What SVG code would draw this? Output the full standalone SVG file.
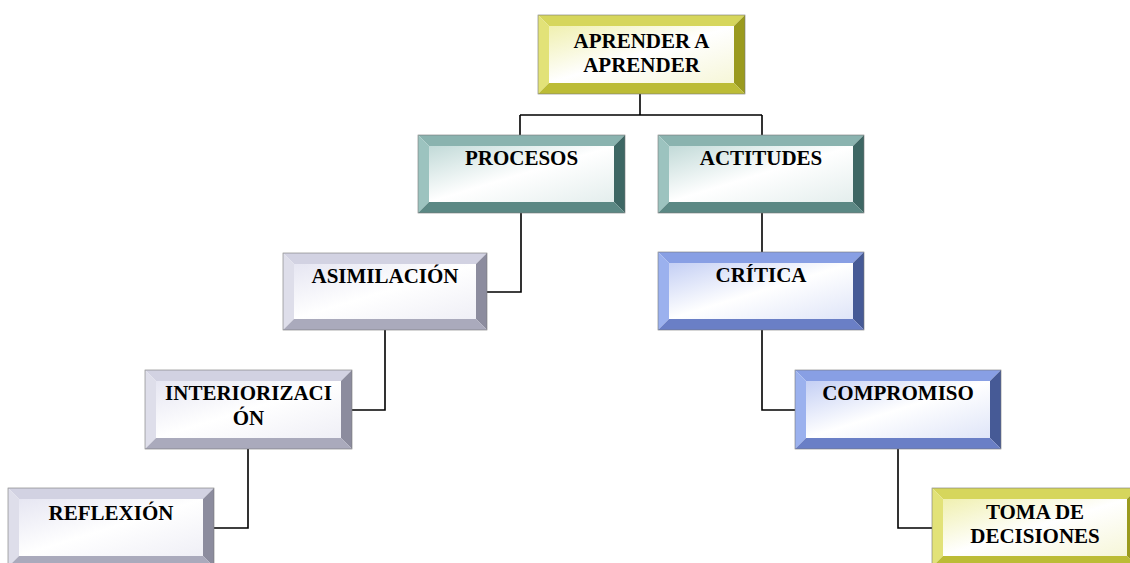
<svg xmlns="http://www.w3.org/2000/svg" width="1130" height="563" viewBox="0 0 1130 563">
<defs>
<linearGradient id="fy" x1="0" y1="0" x2="1" y2="1"><stop offset="0" stop-color="#f0f0b0"/><stop offset="0.5" stop-color="#ffffff"/><stop offset="1" stop-color="#f6f6d8"/></linearGradient>
<linearGradient id="ft" x1="0" y1="0" x2="1" y2="1"><stop offset="0" stop-color="#c2dad8"/><stop offset="0.5" stop-color="#ffffff"/><stop offset="1" stop-color="#e4eeed"/></linearGradient>
<linearGradient id="fg" x1="0" y1="0" x2="1" y2="1"><stop offset="0" stop-color="#e6e6f2"/><stop offset="0.5" stop-color="#ffffff"/><stop offset="1" stop-color="#efeff6"/></linearGradient>
<linearGradient id="fb" x1="0" y1="0" x2="1" y2="1"><stop offset="0" stop-color="#c4cff4"/><stop offset="0.5" stop-color="#ffffff"/><stop offset="1" stop-color="#dfe5f8"/></linearGradient>
</defs>
<style>
.y .tp{fill:#d6d65c}.y .lf{fill:#e2e278}.y .rt{fill:#9a9a1e}.y .bt{fill:#bcbc36}.y .fc{fill:url(#fy)}
.t .tp{fill:#8ab3af}.t .lf{fill:#9cc3bf}.t .rt{fill:#3e6764}.t .bt{fill:#5b8884}.t .fc{fill:url(#ft)}
.g .tp{fill:#d2d2e2}.g .lf{fill:#dedeea}.g .rt{fill:#8c8c9e}.g .bt{fill:#aaaabc}.g .fc{fill:url(#fg)}
.b .tp{fill:#889fe4}.b .lf{fill:#9bb1ee}.b .rt{fill:#465a96}.b .bt{fill:#6a7fc6}.b .fc{fill:url(#fb)}
.ol{fill:none;stroke:#777;stroke-width:0.6}
text{font-family:"Liberation Serif","Times New Roman",serif;font-weight:bold;font-size:21px;fill:#000;text-anchor:middle}
.cn{fill:none;stroke:#000;stroke-width:1.6}
</style>
<g id="connectors">
<path class="cn" d="M640 94V115M520 115H762M520 115V135M762 115V135"/>
<path class="cn" d="M521 213V292H487"/>
<path class="cn" d="M385 330V410H352"/>
<path class="cn" d="M248 449V528H214"/>
<path class="cn" d="M762 213V252"/>
<path class="cn" d="M762 330V410H795"/>
<path class="cn" d="M898 449V528H932"/>
</g>
<g id="n-aprender" class="y" transform="translate(538,15)">
<polygon class="tp" points="0,0 207,0 196,11 11,11"/><polygon class="lf" points="0,0 11,11 11,68 0,79"/><polygon class="rt" points="207,0 207,79 196,68 196,11"/><polygon class="bt" points="0,79 11,68 196,68 207,79"/><rect class="fc" x="11" y="11" width="185" height="57"/><rect class="ol" x="0" y="0" width="207" height="79"/>
<text x="103.5" y="33">APRENDER A</text><text x="103.5" y="57">APRENDER</text>
</g>
<g id="n-procesos" class="t" transform="translate(418,135)">
<polygon class="tp" points="0,0 207,0 196,11 11,11"/><polygon class="lf" points="0,0 11,11 11,67 0,78"/><polygon class="rt" points="207,0 207,78 196,67 196,11"/><polygon class="bt" points="0,78 11,67 196,67 207,78"/><rect class="fc" x="11" y="11" width="185" height="56"/><rect class="ol" x="0" y="0" width="207" height="78"/>
<text x="103.5" y="30">PROCESOS</text>
</g>
<g id="n-actitudes" class="t" transform="translate(658,135)">
<polygon class="tp" points="0,0 206,0 195,11 11,11"/><polygon class="lf" points="0,0 11,11 11,67 0,78"/><polygon class="rt" points="206,0 206,78 195,67 195,11"/><polygon class="bt" points="0,78 11,67 195,67 206,78"/><rect class="fc" x="11" y="11" width="184" height="56"/><rect class="ol" x="0" y="0" width="206" height="78"/>
<text x="103" y="30">ACTITUDES</text>
</g>
<g id="n-asimilacion" class="g" transform="translate(283,253)">
<polygon class="tp" points="0,0 204,0 193,11 11,11"/><polygon class="lf" points="0,0 11,11 11,66 0,77"/><polygon class="rt" points="204,0 204,77 193,66 193,11"/><polygon class="bt" points="0,77 11,66 193,66 204,77"/><rect class="fc" x="11" y="11" width="182" height="55"/><rect class="ol" x="0" y="0" width="204" height="77"/>
<text x="102" y="30">ASIMILACIÓN</text>
</g>
<g id="n-critica" class="b" transform="translate(658,252)">
<polygon class="tp" points="0,0 206,0 195,11 11,11"/><polygon class="lf" points="0,0 11,11 11,67 0,78"/><polygon class="rt" points="206,0 206,78 195,67 195,11"/><polygon class="bt" points="0,78 11,67 195,67 206,78"/><rect class="fc" x="11" y="11" width="184" height="56"/><rect class="ol" x="0" y="0" width="206" height="78"/>
<text x="103" y="30">CRÍTICA</text>
</g>
<g id="n-interiorizacion" class="g" transform="translate(145,370)">
<polygon class="tp" points="0,0 207,0 196,11 11,11"/><polygon class="lf" points="0,0 11,11 11,68 0,79"/><polygon class="rt" points="207,0 207,79 196,68 196,11"/><polygon class="bt" points="0,79 11,68 196,68 207,79"/><rect class="fc" x="11" y="11" width="185" height="57"/><rect class="ol" x="0" y="0" width="207" height="79"/>
<text x="103.5" y="30">INTERIORIZACI</text><text x="103.5" y="55">ÓN</text>
</g>
<g id="n-compromiso" class="b" transform="translate(795,370)">
<polygon class="tp" points="0,0 206,0 195,11 11,11"/><polygon class="lf" points="0,0 11,11 11,68 0,79"/><polygon class="rt" points="206,0 206,79 195,68 195,11"/><polygon class="bt" points="0,79 11,68 195,68 206,79"/><rect class="fc" x="11" y="11" width="184" height="57"/><rect class="ol" x="0" y="0" width="206" height="79"/>
<text x="103" y="30">COMPROMISO</text>
</g>
<g id="n-reflexion" class="g" transform="translate(8,488)">
<polygon class="tp" points="0,0 206,0 195,11 11,11"/><polygon class="lf" points="0,0 11,11 11,68 0,79"/><polygon class="rt" points="206,0 206,79 195,68 195,11"/><polygon class="bt" points="0,79 11,68 195,68 206,79"/><rect class="fc" x="11" y="11" width="184" height="57"/><rect class="ol" x="0" y="0" width="206" height="79"/>
<text x="103" y="32">REFLEXIÓN</text>
</g>
<g id="n-toma" class="y" transform="translate(932,488)">
<polygon class="tp" points="0,0 206,0 195,11 11,11"/><polygon class="lf" points="0,0 11,11 11,68 0,79"/><polygon class="rt" points="206,0 206,79 195,68 195,11"/><polygon class="bt" points="0,79 11,68 195,68 206,79"/><rect class="fc" x="11" y="11" width="184" height="57"/><rect class="ol" x="0" y="0" width="206" height="79"/>
<text x="103" y="31">TOMA DE</text><text x="103" y="55">DECISIONES</text>
</g>
</svg>
